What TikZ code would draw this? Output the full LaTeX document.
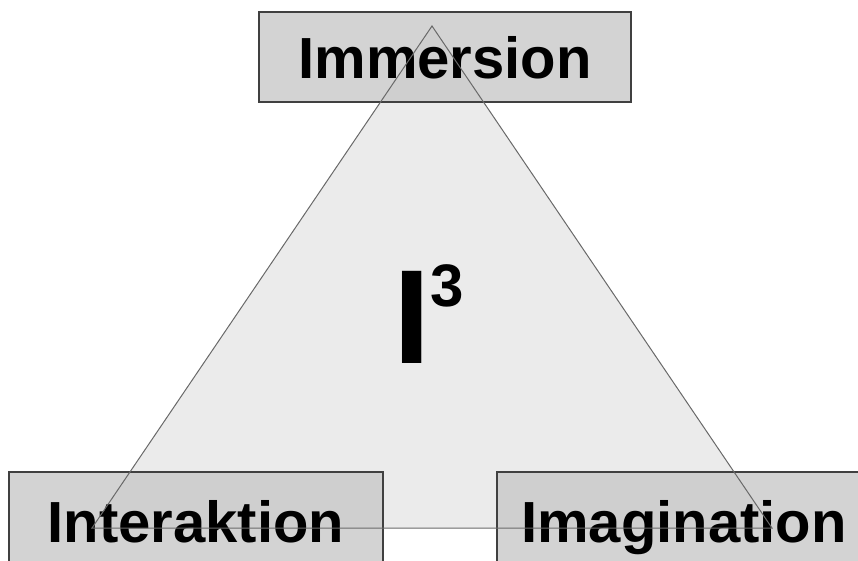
\documentclass[tikz,border=0pt]{standalone}
\usepackage{fontspec}
\setmainfont{Liberation Sans}
\usepackage{xcolor}
\usepackage{tikz}
\usetikzlibrary{positioning}
\definecolor{boxgray}{RGB}{200,200,200}
\definecolor{trigray}{RGB}{235,235,235}
\definecolor{edgegray}{RGB}{105,105,105}

\begin{document}
\begin{tikzpicture}[x=1pt, y=-1pt, font=\bfseries,
    lbl/.style={draw=black!75, line width=1.2pt, fill=boxgray, fill opacity=0.8, text opacity=1,
      minimum height=90pt, inner sep=0pt, text height=43pt, text depth=0pt,
      font=\fontsize{58}{58}\selectfont\bfseries},
    edge/.style={draw=edgegray, line width=1pt}]
    \useasboundingbox (0,0) rectangle (858,560);
    % triangle corners
    \coordinate (top) at (432,26);
    \coordinate (bl) at (92,528);
    \coordinate (br) at (772,528);
    \fill[trigray] (top) -- (bl) -- (br) -- cycle;
    \node[lbl, minimum width=372pt] (imm) at (445,57) {Immersion};
    \node[lbl, minimum width=374pt, minimum height=98pt] (int) at (196,521) {Interaktion};
    \node[lbl, minimum width=374pt, minimum height=98pt] (ima) at (684,521) {Imagination};
    \draw[edge] (top) -- (bl) -- (br) -- cycle;
    \node[inner sep=0pt, anchor=base] (ii) at (429,363)
      {\fontsize{134}{134}\selectfont\bfseries I\raisebox{57pt}{\fontsize{60}{60}\selectfont 3}};
  \end{tikzpicture}
\end{document}
